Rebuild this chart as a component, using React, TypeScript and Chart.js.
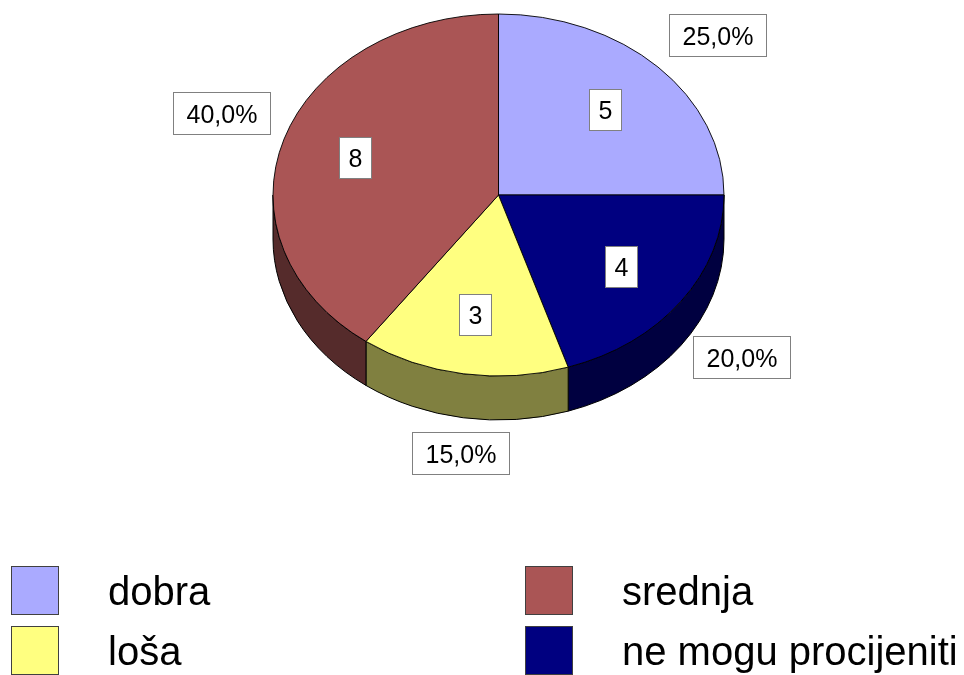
import { useEffect, useRef } from 'react';
import { Chart, registerables } from 'chart.js';

Chart.register(...registerables);

// ---- data ----
const CATEGORIES = ['dobra', 'ne mogu procijeniti', 'loša', 'srednja'];
const VALUES = [5, 4, 3, 8];
const TOP_COLORS = ['#AAAAFF', '#000080', '#FFFF80', '#AA5555'];
const SIDE_COLORS = ['#555580', '#000040', '#808040', '#552B2B'];
const LEGEND_ORDER = ['dobra', 'srednja', 'loša', 'ne mogu procijeniti'];

// ---- style / layout ----
const FONT = '"Liberation Sans", Arial, Helvetica, sans-serif';
const PIE_CY = 195;
const TILT = 181 / 225.5;
const DEPTH = 44;
const VALUE_R = 0.67;
const GAP = 15;

const clamp = (v: number, a: number, b: number) => Math.max(a, Math.min(b, v));

function frontSegments(s: number, e: number): [number, number][] {
  const out: [number, number][] = [];
  for (let k = -1; k <= 1; k++) {
    const lo = Math.max(s, 2 * Math.PI * k);
    const hi = Math.min(e, 2 * Math.PI * k + Math.PI);
    if (hi > lo) out.push([lo, hi]);
  }
  return out;
}

function drawBox(ctx: CanvasRenderingContext2D, text: string, cx: number, cy: number, w: number, h: number, fs: number) {
  const x = Math.round(cx - w / 2) + 0.5;
  const y = Math.round(cy - h / 2) + 0.5;
  ctx.fillStyle = '#ffffff';
  ctx.fillRect(x, y, Math.round(w), Math.round(h));
  ctx.strokeStyle = '#808080';
  ctx.lineWidth = 1;
  ctx.strokeRect(x, y, Math.round(w), Math.round(h));
  ctx.fillStyle = '#000000';
  ctx.textAlign = 'center';
  ctx.textBaseline = 'alphabetic';
  ctx.fillText(text, x + Math.round(w) / 2, y + Math.round(h) / 2 + fs * 0.36);
}

const pie3d = {
  id: 'pie3d',
  beforeDatasetsDraw(chart: any) {
    const arcs = chart.getDatasetMeta(0).data;
    if (!arcs.length) return;
    const ctx: CanvasRenderingContext2D = chart.ctx;
    const a0 = arcs[0];
    const cx = a0.x;
    const R = a0.outerRadius;
    const ry = R * TILT;
    ctx.save();
    ctx.lineWidth = 1;
    ctx.strokeStyle = '#000';
    ctx.lineJoin = 'round';
    arcs.forEach((arc: any, i: number) => {
      frontSegments(arc.startAngle, arc.endAngle).forEach(([a, b]) => {
        ctx.beginPath();
        ctx.ellipse(cx, PIE_CY, R, ry, 0, a, b, false);
        ctx.lineTo(cx + R * Math.cos(b), PIE_CY + DEPTH + ry * Math.sin(b));
        ctx.ellipse(cx, PIE_CY + DEPTH, R, ry, 0, b, a, true);
        ctx.closePath();
        ctx.fillStyle = SIDE_COLORS[i];
        ctx.fill();
        ctx.stroke();
      });
    });
    ctx.restore();
    ctx.save();
    ctx.translate(0, PIE_CY - TILT * a0.y);
    ctx.scale(1, TILT);
  },
  afterDatasetsDraw(chart: any) {
    chart.ctx.restore();
  },
  afterDraw(chart: any) {
    const arcs = chart.getDatasetMeta(0).data;
    if (!arcs.length) return;
    const ctx: CanvasRenderingContext2D = chart.ctx;
    const cx = arcs[0].x;
    const R = arcs[0].outerRadius;
    const ry = R * TILT;
    const total = VALUES.reduce((a, b) => a + b, 0);
    ctx.save();
    const fs = 25;
    ctx.font = `${fs}px ${FONT}`;
    arcs.forEach((arc: any, i: number) => {
      const th = (arc.startAngle + arc.endAngle) / 2;
      const c = Math.cos(th);
      const s = Math.sin(th);
      // value label inside
      const vText = String(VALUES[i]);
      const vw = ctx.measureText(vText).width + 18;
      drawBox(ctx, vText, cx + VALUE_R * R * c, PIE_CY + VALUE_R * ry * s, vw, 41, fs);
      // percent label outside
      const pText = ((VALUES[i] / total) * 100).toFixed(1).replace('.', ',') + '%';
      const pw = ctx.measureText(pText).width + 26;
      const ph = 42;
      const px = cx + R * c + GAP * c;
      const py = PIE_CY + ry * s + DEPTH * Math.max(0, s) + GAP * s;
      const sx = Math.sign(c) * clamp((Math.abs(c) - 0.16) / 0.14, 0, 1);
      const sy = Math.sign(s) * clamp((Math.abs(s) - 0.16) / 0.14, 0, 1);
      drawBox(ctx, pText, px + sx * pw / 2, py + sy * ph / 2, pw, ph, fs);
    });
    // legend
    const colX = [11, 525];
    const rowY = [566, 626];
    ctx.font = `40px ${FONT}`;
    ctx.textAlign = 'left';
    ctx.textBaseline = 'alphabetic';
    LEGEND_ORDER.forEach((label, j) => {
      const idx = CATEGORIES.indexOf(label);
      const x = colX[j % 2];
      const y = rowY[Math.floor(j / 2)];
      ctx.fillStyle = TOP_COLORS[idx];
      ctx.fillRect(x + 0.5, y + 0.5, 47, 48);
      ctx.strokeStyle = '#404040';
      ctx.lineWidth = 1;
      ctx.strokeRect(x + 0.5, y + 0.5, 47, 48);
      ctx.fillStyle = '#000';
      ctx.fillText(label, x + 97, y + 39);
    });
    ctx.restore();
  },
};

export default function App() {
  const ref = useRef<HTMLCanvasElement>(null);
  useEffect(() => {
    const chart = new Chart(ref.current as HTMLCanvasElement, {
      type: 'pie',
      data: {
        labels: CATEGORIES,
        datasets: [
          {
            data: VALUES,
            backgroundColor: TOP_COLORS,
            borderColor: '#000000',
            borderWidth: 1,
            clip: false,
          } as any,
        ],
      },
      options: {
        responsive: false,
        animation: false,
        events: [],
        layout: { padding: { left: 272.5, right: 239.5, top: 10, bottom: 213 } },
        plugins: { legend: { display: false }, tooltip: { enabled: false } },
      },
      plugins: [pie3d as any],
    });
    return () => chart.destroy();
  }, []);
  return (
    <div style={{ position: 'fixed', left: 0, top: 0, width: 964, height: 675, background: '#ffffff' }}>
      <canvas ref={ref} width={964} height={675} style={{ display: 'block', width: 964, height: 675 }} />
    </div>
  );
}
